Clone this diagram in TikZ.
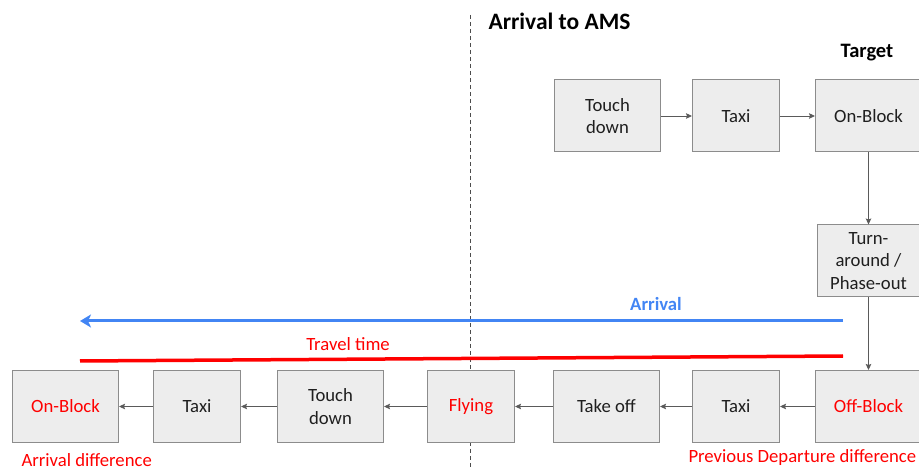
\documentclass[tikz,border=0pt]{standalone}
\usepackage{fontspec}
\setmainfont{Carlito}
\usetikzlibrary{positioning, arrows.meta}
\definecolor{boxfill}{HTML}{EDEDED}
\definecolor{boxline}{HTML}{8C8C8C}
\definecolor{flowline}{HTML}{5A5A5A}
\definecolor{arrblue}{HTML}{4285F4}
\definecolor{travred}{HTML}{FF0000}
\tikzset{
  >={Stealth[length=6pt, width=5.5pt, inset=1pt]},
  phase/.style={draw=boxline, fill=boxfill, line width=1pt, minimum width=87pt,
    minimum height=72pt, inner sep=2pt, align=center, text=black!88,
    font=\fontsize{18.7}{22.7}\selectfont},
  wide/.style={minimum width=106pt},
  flow/.style={->, draw=flowline, line width=0.9pt},
  marker/.style={font=\fontsize{18.7}{22.7}\selectfont, text=travred},
}

\begin{document}
\begin{tikzpicture}[x=1pt, y=-1pt]
  \useasboundingbox (0,0) rectangle (919,470);

  % divider
  \coordinate (divtop) at (470,15);
  \coordinate (divbot) at (470,470);
  \draw[dashed, black!70, line width=0.8pt, dash pattern=on 4pt off 3pt] (divtop) -- (divbot);
  \node[anchor=west, font=\fontsize{23.5}{28}\selectfont\bfseries] (title) at (485,21) {Arrival to AMS};
  \node[font=\fontsize{20.5}{24}\selectfont\bfseries] (targetlabel) at (867,53) {Target};

  % arrival at AMS
  \node[phase, wide] (target) at (868.5,116) {On-Block};
  \node[phase, left=35pt of target] (taxiarr) {Taxi};
  \node[phase, wide, left=31pt of taxiarr] (tdownarr) {Touch\\down};
  \node[phase, minimum width=103pt, below=72pt of target] (turn) {Turn-\\around /\\Phase-out};

  % previous flight
  \node[phase, wide, text=travred] (offblock) at (868.5,406.5) {Off-Block};
  \node[phase, left=35pt of offblock] (taxiout) {Taxi};
  \node[phase, wide, left=32pt of taxiout] (takeoff) {Take off};
  \node[phase, left=38pt of takeoff, text=travred] (flying) {Flying};
  \node[phase, wide, left=43pt of flying] (tdown) {Touch\\down};
  \node[phase, left=36pt of tdown] (taxiin) {Taxi};
  \node[phase, wide, left=34pt of taxiin, text=travred] (onblock) {On-Block};

  % transitions
  \draw[flow] (tdownarr) -- (taxiarr);
  \draw[flow] (taxiarr) -- (target);
  \draw[flow] (target) -- (turn);
  \draw[flow] (turn) -- (offblock);
  \draw[flow] (offblock) -- (taxiout);
  \draw[flow] (taxiout) -- (takeoff);
  \draw[flow] (takeoff) -- (flying);
  \draw[flow] (flying) -- (tdown);
  \draw[flow] (tdown) -- (taxiin);
  \draw[flow] (taxiin) -- (onblock);

  % spans
  \coordinate (arrstart) at (843,321);
  \coordinate (arrend) at (80,321);
  \draw[-{Stealth[length=11pt, width=13pt, inset=3pt]}, arrblue, line width=3pt] (arrstart) -- (arrend);
  \node[font=\fontsize{18.7}{22.7}\selectfont\bfseries, text=arrblue] (arrlabel) at (656,304) {Arrival};
  \coordinate (travstart) at (843,356);
  \coordinate (travend) at (80,361);
  \draw[travred, line width=3.5pt] (travstart) -- (travend);
  \node[marker] (travlabel) at (348,344) {Travel time};

  \node[marker, anchor=west] (arrdiff) at (18,460) {Arrival difference};
  \node[marker, anchor=west] (depdiff) at (685,458) {Previous Departure difference};
\end{tikzpicture}
\end{document}
